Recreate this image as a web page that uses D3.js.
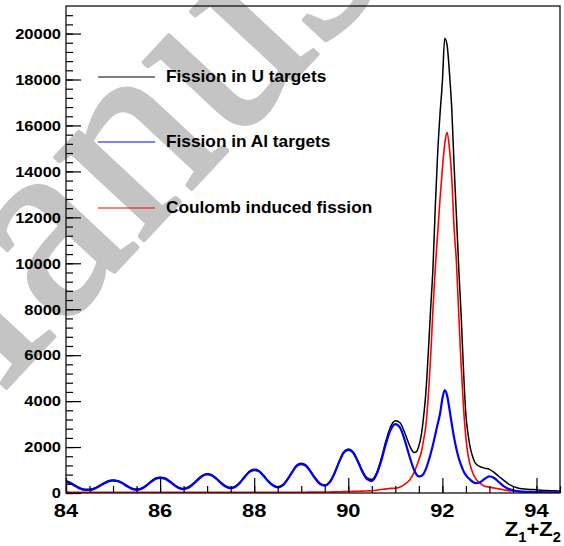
<!DOCTYPE html>
<html><head><meta charset="utf-8">
<script src="https://cdn.jsdelivr.net/npm/d3@7"></script>
<style>body{margin:0;background:#fff}svg{display:block}</style>
</head><body><svg id="c" width="564" height="546"></svg>
<script>
// ---- data ----
const zBins = [
 84.0,84.1,84.2,84.3,84.4,84.5,84.6,84.7,84.8,84.9,
 85.0,85.1,85.2,85.3,85.4,85.5,85.6,85.7,85.8,85.9,
 86.0,86.1,86.2,86.3,86.4,86.5,86.6,86.7,86.8,86.9,
 87.0,87.1,87.2,87.3,87.4,87.5,87.6,87.7,87.8,87.9,
 88.0,88.1,88.2,88.3,88.4,88.5,88.6,88.7,88.8,88.9,
 89.0,89.1,89.2,89.3,89.4,89.5,89.6,89.7,89.8,89.9,
 90.0,90.1,90.2,90.3,90.4,90.5,90.6,90.7,90.8,90.9,
 91.0,91.1,91.2,91.3,91.4,
 91.45,91.5,91.55,91.6,91.65,91.7,91.75,91.8,91.85,91.9,91.95,92.0,92.05,
 92.1,92.15,92.2,92.25,92.3,92.35,92.4,92.45,92.5,92.55,92.6,92.65,92.7,
 92.8,92.9,93.0,93.1,93.2,93.3,93.4,93.5,93.6,93.7,93.8,93.9,94.0,94.1,94.2,94.3,94.4,94.5
];
const uTargets = [
 530,450,330,220,160,160,210,310,430,530,
 570,540,450,320,210,170,210,330,500,640,
 690,650,530,370,240,200,260,410,600,770,
 840,790,640,450,300,240,300,480,730,950,
 1030,970,770,530,350,270,350,590,910,1200,
 1290,1210,950,650,420,350,480,850,1350,1780,
 1920,1800,1420,970,660,590,870,1490,2260,2890,
 3150,3060,2620,2080,1760,
 1800,2050,2500,3300,4400,6100,8000,9800,12500,14800,16500,17900,19800,
 19500,18300,16700,14200,12000,9700,7700,5300,3400,2500,1900,1550,1300,
 1150,1080,1030,900,720,560,400,290,220,180,160,150,140,120,110,100,95,90
];
const alTargets = [
 500,420,300,190,130,130,180,280,400,500,
 540,510,420,290,180,140,180,300,470,610,
 660,620,500,340,210,170,230,380,570,740,
 810,760,610,420,270,210,270,450,700,920,
 1000,940,740,500,320,240,320,560,880,1170,
 1260,1180,920,620,390,320,450,820,1320,1750,
 1880,1760,1380,920,600,520,800,1400,2150,2750,
 3000,2850,2300,1600,1000,
 800,720,740,830,1050,1350,1700,2100,2550,3000,3450,4100,4480,
 4250,3650,3000,2400,1900,1500,1200,950,780,660,560,480,430,
 470,620,720,650,480,300,180,120,80,60,50,45,40,35,30,30,25,25
];
const coulomb = [
 40,35,30,30,30,30,30,30,30,30,
 30,30,30,30,30,30,30,30,30,30,
 30,30,30,30,30,30,30,30,30,30,
 30,30,30,30,30,30,30,30,30,30,
 30,30,30,30,30,30,30,35,35,35,
 35,35,40,40,40,45,45,50,55,60,
 65,70,75,80,90,100,120,150,180,200,
 200,260,380,560,900,
 1150,1450,1750,2300,2950,4200,5900,8000,9800,11300,12800,14100,15200,
 15700,15000,13700,11500,10000,7700,5500,3700,2400,1600,1150,850,650,
 430,290,250,220,180,140,100,80,65,55,50,45,45,40,40,40,40,40
];
const xTickValues = [84,86,88,90,92,94];
const xTickLabels = ["84","86","88","90","92","94"];
const yTickValues = [0,2000,4000,6000,8000,10000,12000,14000,16000,18000,20000];
const yTickLabels = ["0","2000","4000","6000","8000","10000","12000","14000","16000","18000","20000"];
const legendLabels = ["Fission in U targets","Fission in Al targets","Coulomb induced fission"];
const seriesColors = ["#000000","#0000ff","#ff0000"];
const watermarkText = "Manuscript";

// ---- layout ----
const L = 66, R = 560, T = 6, B = 493;
const svg = d3.select("#c");
const FONT = "'Liberation Sans', Arial, Helvetica, sans-serif";

// watermark (behind everything)
svg.append("text")
  .attr("transform", "translate(-101,503) rotate(-47)")
  .attr("font-family", "'Liberation Serif','Times New Roman',serif")
  .attr("font-size", 265)
  .attr("fill", "#c4c4c4")
  .attr("stroke", "#c4c4c4").attr("stroke-width", 4).attr("stroke-linejoin", "round")
  .text(watermarkText);

const x = d3.scaleLinear().domain([84, 94.5]).range([L, R]);
const y = d3.scaleLinear().domain([0, 21200]).range([B, T]);

// clip
svg.append("clipPath").attr("id","pc").append("rect")
  .attr("x", L).attr("y", T).attr("width", R - L).attr("height", B - T);

const line = vals => d3.line()
  .x((d, i) => x(zBins[i]))
  .y(d => y(d))
  .curve(d3.curveMonotoneX)(vals);

const g = svg.append("g").attr("clip-path", "url(#pc)");
g.append("path").attr("d", line(uTargets)).attr("fill","none")
  .attr("stroke", seriesColors[0]).attr("stroke-width", 1.5);
g.append("path").attr("d", line(coulomb)).attr("fill","none")
  .attr("stroke", seriesColors[2]).attr("stroke-width", 1.6);
g.append("path").attr("d", line(alTargets)).attr("fill","none")
  .attr("stroke", seriesColors[1]).attr("stroke-width", 2.2);

// axes ticks (inside, ROOT style)
const yMinor = d3.range(0, 21200, 400);
const xMinor = d3.range(84, 94.51, 0.5);
const yAxMinor = svg.append("g").attr("transform", `translate(${L},0)`)
  .call(d3.axisLeft(y).tickValues(yMinor).tickSize(-7).tickFormat(""));
const yAx = svg.append("g").attr("transform", `translate(${L},0)`)
  .call(d3.axisLeft(y).tickValues(yTickValues).tickSize(-15).tickFormat(""));
const xAxMinor = svg.append("g").attr("transform", `translate(0,${B})`)
  .call(d3.axisBottom(x).tickValues(xMinor).tickSize(-7).tickFormat(""));
const xAx = svg.append("g").attr("transform", `translate(0,${B})`)
  .call(d3.axisBottom(x).tickValues(xTickValues).tickSize(-15).tickFormat(""));
[yAxMinor, yAx, xAxMinor, xAx].forEach(a => {
  a.selectAll(".domain").remove();
  a.selectAll("line").attr("stroke", "#000").attr("stroke-width", 1.2);
});

// frame
svg.append("rect").attr("x", L).attr("y", T).attr("width", R - L).attr("height", B - T)
  .attr("fill", "none").attr("stroke", "#111").attr("stroke-width", 1.3);

// text helper with horizontal stretch
function stext(parent, str, tx, ty, size, sx, anchor) {
  return parent.append("text")
    .attr("transform", `translate(${tx},${ty}) scale(${sx},1)`)
    .attr("text-anchor", anchor)
    .attr("font-family", FONT).attr("font-weight", "bold")
    .attr("font-size", size).attr("fill", "#000")
    .text(str);
}

// y labels
yTickValues.forEach((v, i) => stext(svg, yTickLabels[i], 61, y(v) + 5.3, 15, 1.1, "end"));
// x labels
xTickValues.forEach((v, i) => stext(svg, xTickLabels[i], x(v), 517, 19, 1.15, "middle"));

// x title Z1+Z2
const xt = svg.append("text")
  .attr("transform", "translate(561,536) scale(1.05,1)")
  .attr("text-anchor", "end")
  .attr("font-family", FONT).attr("font-weight", "bold").attr("font-size", 21);
xt.append("tspan").text("Z");
xt.append("tspan").attr("font-size", 14).attr("dy", 6).text("1");
xt.append("tspan").attr("dy", -6).text("+Z");
xt.append("tspan").attr("font-size", 14).attr("dy", 6).text("2");

// legend
const legY = [77, 142, 208];
const legend = svg.append("g");
legendLabels.forEach((lab, i) => {
  legend.append("line").attr("x1", 98).attr("x2", 155)
    .attr("y1", legY[i]).attr("y2", legY[i])
    .attr("stroke", seriesColors[i]).attr("stroke-width", 1.2);
  stext(legend, lab, 166, legY[i] + 4.5, 16, 1.08, "start");
});
</script>
</body></html>
